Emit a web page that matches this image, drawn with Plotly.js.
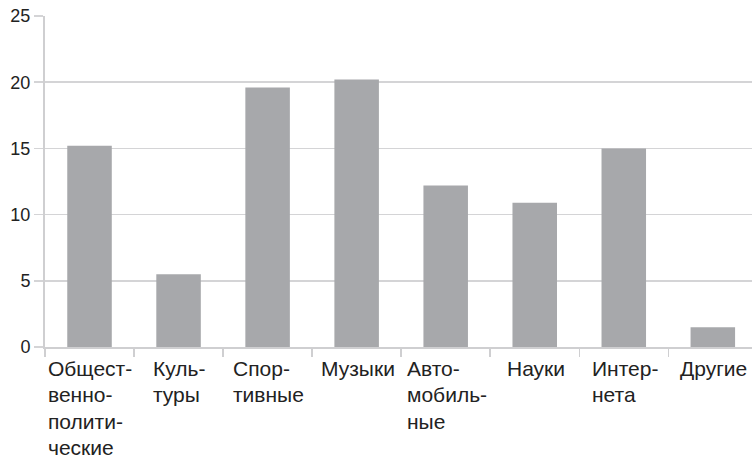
<!DOCTYPE html>
<html>
<head>
<meta charset="utf-8">
<script src="https://cdn.plot.ly/plotly-3.0.1.min.js"></script>
<style>html,body{margin:0;padding:0;background:#fff;}#chart{width:752px;height:458px;}</style>
</head>
<body>
<div id="chart"></div>
<script>
// Data
const categories = ["Общест-\nвенно-\nполити-\nческие", "Куль-\nтуры", "Спор-\nтивные", "Музыки", "Авто-\nмобиль-\nные", "Науки", "Интер-\nнета", "Другие"];
const values = [15.2, 5.5, 19.6, 20.2, 12.2, 10.9, 15.0, 1.5];
const yTicks = [0, 5, 10, 15, 20, 25];

const FONT = "Liberation Sans, Arial, sans-serif";
const LABEL_SIZE = 21;
const LINE_H = 26.3;

const ctx = document.createElement('canvas').getContext('2d');
ctx.font = LABEL_SIZE + "px 'Liberation Sans'";

const xIdx = categories.map((c, i) => i);
const boundaries = categories.map((c, i) => i - 0.5).concat([categories.length - 0.5]);

const annotations = [];
categories.forEach((lab, i) => {
  const lines = lab.split("\n");
  const w = Math.max(...lines.map(l => ctx.measureText(l).width));
  lines.forEach((ln, j) => {
    annotations.push({
      x: i, xref: 'x', y: 0, yref: 'paper',
      xanchor: 'left', yanchor: 'top',
      xshift: -w / 2, yshift: -9 - j * LINE_H,
      text: ln, showarrow: false,
      font: {family: FONT, size: LABEL_SIZE, color: '#222'},
      borderpad: 0
    });
  });
});

const trace = {
  type: 'bar', x: xIdx, y: values,
  width: 0.5,
  marker: {color: '#a7a8ab', line: {width: 0}},
  hoverinfo: 'skip'
};

const layout = {
  width: 752, height: 458,
  margin: {l: 45, r: 0, t: 16, b: 111},
  paper_bgcolor: '#fff', plot_bgcolor: '#fff',
  showlegend: false,
  font: {family: FONT, size: 18, color: '#222'},
  xaxis: {
    range: [-0.5, 7.44],
    tickmode: 'array', tickvals: boundaries, ticktext: boundaries.map(() => ''),
    showticklabels: false,
    ticks: 'outside', ticklen: 8, tickwidth: 1.5, tickcolor: '#cfcfd1',
    showgrid: false, zeroline: false,
    showline: true, linecolor: '#cfcfd1', linewidth: 2,
    fixedrange: true
  },
  yaxis: {
    range: [0, 25],
    tickmode: 'array', tickvals: yTicks,
    ticks: 'outside', ticklen: 9, tickwidth: 1.5, tickcolor: '#d4d4d6',
    showgrid: true, gridcolor: '#d4d4d6', gridwidth: 1.5,
    zeroline: false,
    showline: true, linecolor: '#cfcfd1', linewidth: 2,
    tickfont: {family: FONT, size: 18, color: '#222'},
    fixedrange: true
  },
  annotations: annotations
};

Plotly.newPlot('chart', [trace], layout, {displayModeBar: false, staticPlot: true});
</script>
</body>
</html>
